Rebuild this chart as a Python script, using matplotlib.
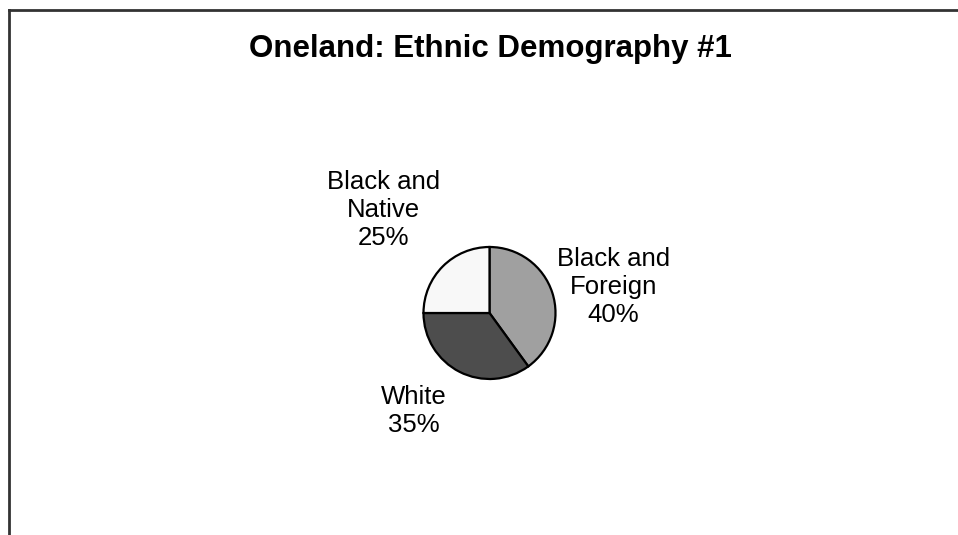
import matplotlib
matplotlib.use('Agg')
import matplotlib.pyplot as plt
from matplotlib.lines import Line2D

# data
groups = ['Black and\nForeign', 'White', 'Black and\nNative']
shares = [40, 35, 25]
colors = ['#a0a0a0', '#4d4d4d', '#f8f8f8']

W, H = 958, 535
fig = plt.figure(figsize=(W / 100, H / 100), dpi=100)
ax = fig.add_axes([0, 0, 1, 1])
ax.set_xlim(0, W)
ax.set_ylim(0, H)
ax.set_aspect('equal')
ax.axis('off')

cx, cy, r = 489.5, H - 313, 66
wedges, _ = ax.pie(shares, colors=colors, startangle=90, counterclock=False,
                   center=(cx, cy), radius=r,
                   wedgeprops=dict(edgecolor='black', linewidth=1.6))
ax.set_xlim(0, W)
ax.set_ylim(0, H)

# label offsets from pie centre (pixels)
offsets = [(124, 26), (-76, -98), (-106, 103)]
for name, pct, (dx, dy) in zip(groups, shares, offsets):
    ax.text(cx + dx, cy + dy, f"{name}\n{pct}%", ha='center', va='center',
            multialignment='center', fontsize=18.5, family='Liberation Sans',
            linespacing=1.2)

ax.text(490.5, H - 57, 'Oneland: Ethnic Demography #1', ha='center', va='baseline',
        fontsize=22.5, fontweight='bold', family='Liberation Sans')

# chart frame: only top and left edges visible
fig.add_artist(Line2D([9 / W, 1], [1 - 10 / H, 1 - 10 / H], color='#333333',
                      linewidth=2, transform=fig.transFigure))
fig.add_artist(Line2D([9 / W, 9 / W], [0, 1 - 10 / H], color='#333333',
                      linewidth=2, transform=fig.transFigure))

fig.savefig('out.png', dpi=100)
